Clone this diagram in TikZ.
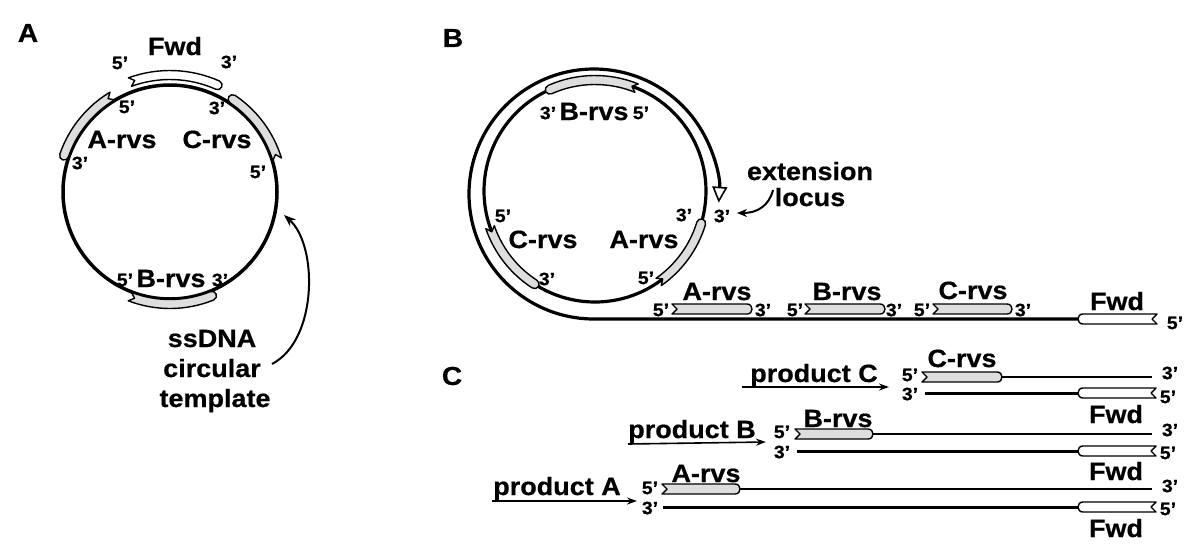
\documentclass[tikz,border=0pt]{standalone}
\usepackage{fontspec}
\newfontfamily\lab{Liberation Sans}[FakeStretch=1.08, BoldFeatures={FakeBold=0.6}]
\usetikzlibrary{calc,arrows.meta}
\definecolor{pg}{gray}{0.87}
\tikzset{
 big/.style={font=\lab\bfseries\fontsize{12.5}{15}\selectfont, inner sep=0pt},
 sm/.style={font=\lab\bfseries\fontsize{9}{11}\selectfont, inner sep=0pt},
 pnl/.style={font=\lab\bfseries\fontsize{13}{15}\selectfont, inner sep=0pt},
 bandline/.style={line width=0.7pt, line join=round},
 templ/.style={line width=1.6pt},
 thinstrand/.style={line width=1pt},
 thickstrand/.style={line width=1.5pt},
 parr/.style={line width=0.8pt, -{Stealth[length=5pt,width=3.5pt]}},
 carr/.style={line width=1pt, -{Stealth[length=6pt,width=4.5pt]}},
}
% curved primer: cx, cy, r, angle 5', angle 3', fill
\newcommand\cprimer[6]{%
 \pgfmathsetmacro\Ro{#3+4.5}\pgfmathsetmacro\Ri{#3-4.5}%
 \pgfmathsetmacro\Sg{ifthenelse(#5>#4,1,-1)}%
 \pgfmathsetmacro\Ta{#4+\Sg*5/#3*57.2958}%
 \pgfmathsetmacro\De{#5+\Sg*6/#3*57.2958}%
 \draw[bandline, fill=#6] ($(#1,#2)+(#4:\Ro)$) arc[start angle=#4, end angle=#5, radius=\Ro]
  .. controls ($(#1,#2)+(\De:\Ro)$) and ($(#1,#2)+(\De:\Ri)$) .. ($(#1,#2)+(#5:\Ri)$)
  arc[start angle=#5, end angle=#4, radius=\Ri] -- ($(#1,#2)+(\Ta:#3)$) -- cycle;}
% linear primer: x 5', x 3', y, fill
\newcommand\lprimer[4]{%
 \pgfmathsetmacro\Sg{ifthenelse(#2>#1,1,-1)}%
 \pgfmathsetmacro\Xc{#2-\Sg*5}%
 \pgfmathsetmacro\Xk{#2+\Sg*1.7}%
 \pgfmathsetmacro\Xn{#1+\Sg*5}%
 \draw[bandline, fill=#4] (#1,#3-5) -- (\Xc,#3-5) .. controls (\Xk,#3-5) and (\Xk,#3+5) .. (\Xc,#3+5) -- (#1,#3+5) -- (\Xn,#3) -- cycle;}
\begin{document}
\begin{tikzpicture}[x=0.5pt,y=-0.5pt]
\fill[white] (0,0) rectangle (1200,554);
\useasboundingbox (0,0) rectangle (1200,554);
% ================= Panel A
\node[pnl] (labA) at (28,33) {A};
\draw[templ, line width=1.75pt] (170,192) circle[radius=107];
\cprimer{170}{192}{117}{-110}{-66}{white}
\cprimer{170}{192}{112}{-121}{-161}{pg}
\cprimer{170}{192}{112}{-17}{-56}{pg}
\cprimer{170}{192}{112}{111}{68}{pg}
\node[big, anchor=base] (fwdA) at (175,55) {Fwd};
\node[sm] (a5f) at (120,63) {5’};
\node[sm] (a3f) at (229,62) {3’};
\node[sm] (a5a) at (127,107) {5’};
\node[big, anchor=base] (arvsA) at (122,148) {A-rvs};
\node[sm] (a3a) at (80,163) {3’};
\node[sm] (a3c) at (217,108) {3’};
\node[big, anchor=base] (crvsA) at (217,148) {C-rvs};
\node[sm] (a5c) at (258,172) {5’};
\node[sm] (a5b) at (125,280) {5’};
\node[big, anchor=base] (brvsA) at (171,287) {B-rvs};
\node[sm] (a3b) at (220,280) {3’};
\node[big, anchor=base] (ss1) at (212,347) {ssDNA};
\node[big, anchor=base] (ss2) at (212,377) {circular};
\node[big, anchor=base] (ss3) at (215,407) {template};
\coordinate (ssS) at (272,364);
\coordinate (circPt) at (284,215);
\draw[carr] (ssS) .. controls (318,340) and (318,245) .. (circPt);
% ================= Panel B
\node[pnl] (labB) at (453,38) {B};
\draw[templ] (595,191) circle[radius=111];
\draw[templ, -{Triangle[open,length=8pt,width=7.5pt,line width=0.8pt]}] (1080,319) -- (594,319) arc[start angle=90, end angle=364, radius=125];
\cprimer{595}{191}{111}{-68}{-114}{pg}
\cprimer{595}{191}{111}{161}{123}{pg}
\cprimer{595}{191}{111}{55}{17}{pg}
\lprimer{672}{752}{309}{pg}
\lprimer{805}{885}{309}{pg}
\lprimer{933}{1012}{309}{pg}
\lprimer{1157}{1078}{319}{white}
\node[sm] (b3b) at (548,113) {3’};
\node[big, anchor=base] (brvsB) at (594,120) {B-rvs};
\node[sm] (b5b) at (641,113) {5’};
\node[sm] (b5c) at (503,216) {5’};
\node[big, anchor=base] (crvsB) at (543,248) {C-rvs};
\node[sm] (b3c) at (547,279) {3’};
\node[sm] (b3a) at (684,215) {3’};
\node[big, anchor=base] (arvsB) at (644,248) {A-rvs};
\node[sm] (b5a) at (646,278) {5’};
\node[sm] (b3x) at (722,216) {3’};
\node[big, anchor=base] (ext1) at (810,180) {extension};
\node[big, anchor=base] (ext2) at (810,206) {locus};
\coordinate (extS) at (773,190);
\coordinate (extE) at (737,213);
\draw[line width=1pt, -{Stealth[length=5pt,width=4pt]}] (extS) .. controls (769,206) and (757,213) .. (extE);
\node[big, anchor=base] (arvsL) at (717,300) {A-rvs};
\node[big, anchor=base] (brvsL) at (847,300) {B-rvs};
\node[big, anchor=base] (crvsL) at (973,299) {C-rvs};
\node[big, anchor=base] (fwdL) at (1117,310) {Fwd};
\node[sm] (l5a) at (661,310) {5’};
\node[sm] (l3a) at (763,310) {3’};
\node[sm] (l5b) at (795,310) {5’};
\node[sm] (l3b) at (894,310) {3’};
\node[sm] (l5c) at (922,310) {5’};
\node[sm] (l3c) at (1023,310) {3’};
\node[sm] (l5f) at (1175,323) {5’};
% ================= Panel C
\node[pnl] (labC) at (452,376) {C};
% row C
\draw[thinstrand] (1000,377) -- (1152,377);
\draw[thickstrand] (925,393) -- (1080,393);
\lprimer{922}{1002}{377}{pg}
\lprimer{1156}{1078}{393}{white}
\node[big, anchor=base] (crvsC) at (962,367) {C-rvs};
\node[sm] (c5c) at (910,375) {5’};
\node[sm] (c3c) at (910,394) {3’};
\node[sm] (c3r) at (1170,373) {3’};
\node[sm] (c5r) at (1168,397) {5’};
\node[big, anchor=base] (fwdCc) at (1116,423) {Fwd};
\node[big, anchor=base] (prodC) at (814,382) {product C};
\coordinate (pCs) at (742,387);
\coordinate (pCe) at (889,387);
\draw[parr] (pCs) -- (pCe);
% row B
\draw[thinstrand] (871,434) -- (1152,434);
\draw[thickstrand] (797,451) -- (1080,451);
\lprimer{795}{873}{434}{pg}
\lprimer{1156}{1078}{451}{white}
\node[big, anchor=base] (brvsC) at (838,427) {B-rvs};
\node[sm] (c5b) at (782,432) {5’};
\node[sm] (c3b) at (782,452) {3’};
\node[sm] (c3rb) at (1170,430) {3’};
\node[sm] (c5rb) at (1168,453) {5’};
\node[big, anchor=base] (fwdCb) at (1116,480) {Fwd};
\node[big, anchor=base] (prodB) at (692,438) {product B};
\coordinate (pBs) at (628,444);
\coordinate (pBe) at (766,442);
\draw[parr] (pBs) -- (pBe);
% row A
\draw[thinstrand] (738,489) -- (1152,489);
\draw[thickstrand] (663,507) -- (1080,507);
\lprimer{662}{740}{489}{pg}
\lprimer{1156}{1078}{507}{white}
\node[big, anchor=base] (arvsC) at (706,482) {A-rvs};
\node[sm] (c5a) at (650,488) {5’};
\node[sm] (c3a) at (650,508) {3’};
\node[sm] (c3ra) at (1170,486) {3’};
\node[sm] (c5ra) at (1168,509) {5’};
\node[big, anchor=base] (fwdCa) at (1116,537) {Fwd};
\node[big, anchor=base] (prodA) at (557,495) {product A};
\coordinate (pAs) at (492,501);
\coordinate (pAe) at (637,501);
\draw[parr] (pAs) -- (pAe);
\end{tikzpicture}
\end{document}
